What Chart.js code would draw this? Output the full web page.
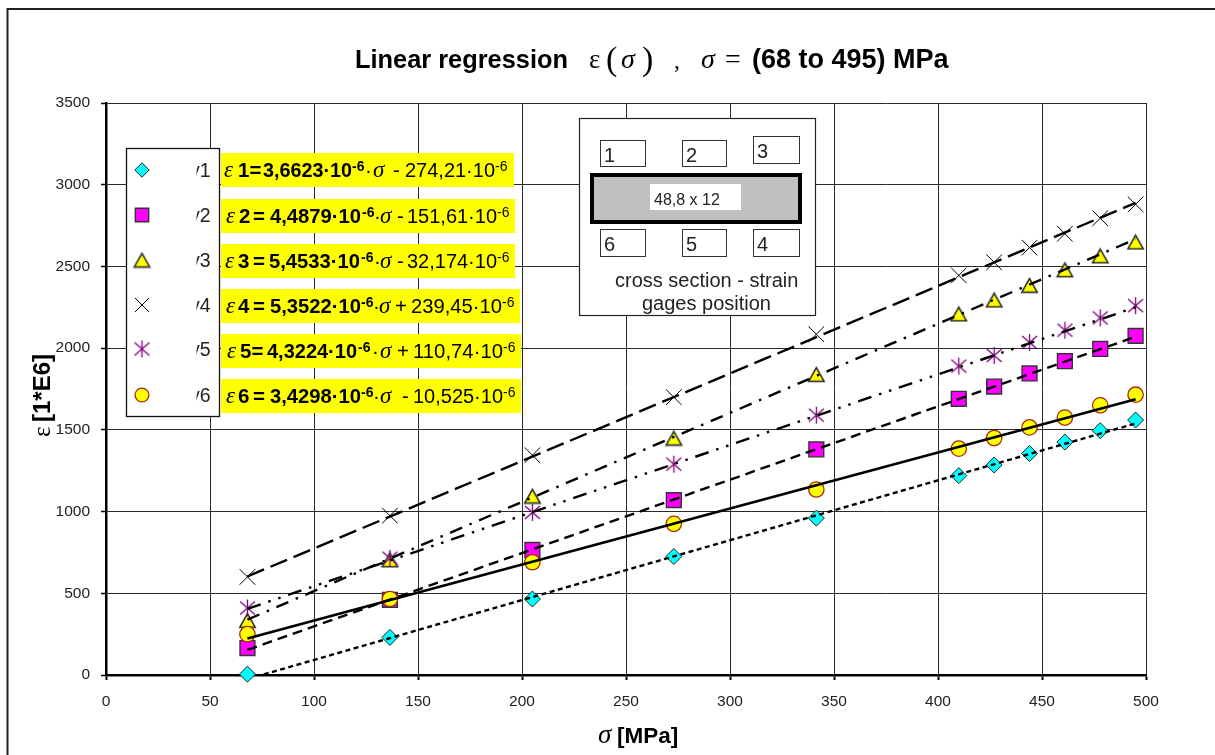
<!DOCTYPE html>
<html><head><meta charset="utf-8">
<style>html,body{margin:0;padding:0;background:#fff}canvas{display:block}</style>
<script src="https://cdn.jsdelivr.net/npm/chart.js@4/dist/chart.umd.js"></script>
</head><body><canvas id="c" width="1215" height="755"></canvas>
<script>
const stress = [68,136.5,205,273,341.5,410,427,444,461,478,495];
const gage1 = [5,230,465,725,960,1220,1285,1355,1425,1495,1560];
const gage2 = [165,460,765,1070,1380,1690,1765,1845,1920,1995,2075];
const gage3 = [335,705,1095,1450,1840,2210,2295,2385,2480,2565,2650];
const gage4 = [600,975,1345,1700,2085,2445,2525,2615,2700,2795,2880];
const gage5 = [410,715,995,1290,1590,1890,1955,2035,2110,2185,2260];
const gage6 = [250,465,690,925,1135,1385,1450,1515,1575,1650,1715];
const trendX = [68,495];
const trend1 = [-25,1539];
const trend2 = [154,2070];
const trend3 = [339,2667];
const trend4 = [603,2889];
const trend5 = [405,2250];
const trend6 = [223,1687];
const xTicks = [0,50,100,150,200,250,300,350,400,450,500];
const yTicks = [0,500,1000,1500,2000,2500,3000,3500];
const seriesNames = ['y1','y2','y3','y4','y5','y6'];

const SANS = "'Liberation Sans'", SERIF = "'Liberation Serif'";
function asterisk(){
  const s=document.createElement('canvas');s.width=19;s.height=19;
  const g=s.getContext('2d');g.strokeStyle='#800080';g.lineWidth=1.3;g.beginPath();
  g.moveTo(9.5,1);g.lineTo(9.5,18);g.moveTo(2,3);g.lineTo(17,16);g.moveTo(17,3);g.lineTo(2,16);g.stroke();
  return s;
}
function triangleMark(){
  const s=document.createElement('canvas');s.width=19;s.height=17;
  const g=s.getContext('2d');g.fillStyle='#ffff00';g.strokeStyle='#222';g.lineWidth=1.5;g.lineJoin='miter';g.beginPath();
  g.moveTo(9.5,1.8);g.lineTo(17.2,15.5);g.lineTo(1.8,15.5);g.closePath();g.fill();g.stroke();
  return s;
}
const starImg = asterisk(), triImg = triangleMark();
const markers = [
 {data:gage1,style:'rectRot',r:8,bg:'#00ffff',bd:'#222',w:1},
 {data:gage2,style:'rect',r:10.5,bg:'#ff00ff',bd:'#333',w:1.4},
 {data:gage3,style:triImg,r:8,bg:'#ffff00',bd:'#333',w:1.4},
 {data:gage4,style:'crossRot',r:11,bg:'#000',bd:'#000',w:1},
 {data:gage5,style:starImg,r:8,bg:'#800080',bd:'#800080',w:1},
 {data:gage6,style:'circle',r:7.7,bg:'#ffff00',bd:'#a52a10',w:1.3},
];
const trends = [
 {data:trend1,dash:[5,3.5],w:2.4},
 {data:trend2,dash:[10,6],w:2.4},
 {data:trend3,dash:[13,8,2.5,8],w:2.4},
 {data:trend4,dash:[18,7],w:2.4},
 {data:trend5,dash:[14,8,2.5,8,2.5,8],w:2.4},
 {data:trend6,dash:[],w:2.6},
];
const datasets = [];
markers.forEach((m,i)=>datasets.push({type:'scatter',label:'Gage '+(i+1),
  data:stress.map((x,j)=>({x,y:m.data[j]})),showLine:false,clip:false,order:100-i,
  pointStyle:m.style,pointRadius:m.r,pointBackgroundColor:m.bg,pointBorderColor:m.bd,pointBorderWidth:m.w}));
trends.forEach((t,i)=>datasets.push({type:'scatter',label:'Trend '+(i+1),
  data:trendX.map((x,j)=>({x,y:t.data[j]})),showLine:true,clip:0,order:10-i,
  pointRadius:0,borderColor:'#000',borderWidth:t.w,borderDash:t.dash,borderCapStyle:'butt',fill:false}));

const sym = 'italic 23px '+SERIF, bold='bold 20.5px '+SANS, reg='20.5px '+SANS, supB='bold 14px '+SANS, supR='14px '+SANS;
const formulaBoxes=[[221,153,293],[221,199,294],[221,244,294],[221,289,299],[221,334,300],[221,379,300]];
const formulas=[
 [['ε',224,sym],['1=',238,bold],['3,6623·10',263,bold,89],['-6',352,supB],['·',365,reg],['σ',373,sym],['-',393,reg],['274,21·10',405,reg,90],['-6',495,supR]],
 [['ε',226,sym],['2',239,bold],['=',253,bold],['4,4879·10',270,bold,91],['-6',362,supB],['·',374,reg],['σ',380,sym],['-',397,reg],['151,61·10',407,reg,90],['-6',497,supR]],
 [['ε',225,sym],['3',238,bold],['=',253,bold],['5,4533·10',269,bold,91],['-6',361,supB],['·',374,reg],['σ',380,sym],['-',397,reg],['32,174·10',407,reg,90],['-6',497,supR]],
 [['ε',226,sym],['4',238,bold],['=',253,bold],['5,3522·10',270,bold,91],['-6',361,supB],['·',373,reg],['σ',379,sym],['+',395,reg],['239,45·10',411,reg,91],['-6',502,supR]],
 [['ε',227,sym],['5=',240,bold],['4,3224·10',267,bold,90],['-6',358,supB],['·',372,reg],['σ',380,sym],['+',397,reg],['110,74·10',413,reg,90],['-6',503,supR]],
 [['ε',226,sym],['6',238,bold],['=',253,bold],['3,4298·10',270,bold,91],['-6',361,supB],['·',373,reg],['σ',380,sym],['-',402,reg],['10,525·10',413,reg,90],['-6',503,supR]],
];
const legendRows=[170,215,260,305,349,395];
function T(g,t,x,y,font,mw,color){g.font=font;g.fillStyle=color||'#000';g.textAlign='left';g.textBaseline='alphabetic';
  if(mw)g.fillText(t,x,y,mw);else g.fillText(t,x,y);}
function box(g,x0,y0,x1,y1,bd,w,fill){g.fillStyle=fill||'#fff';g.fillRect(x0,y0,x1-x0,y1-y0);g.strokeStyle=bd;g.lineWidth=w;g.strokeRect(x0+.5,y0+.5,x1-x0-1,y1-y0-1);}

const decor={id:'decor',
 beforeDraw(c){const g=c.ctx;g.save();g.strokeStyle='#222';g.lineWidth=2;g.beginPath();g.moveTo(7.5,755);g.lineTo(7.5,9);g.lineTo(1215,9);g.stroke();
   const s='italic 28px '+SERIF;
   T(g,'Linear regression',355,68,'bold 25.5px '+SANS,213);
   T(g,'ε',589,68,'27px '+SERIF);
   T(g,'(',606,70,'34px '+SERIF);
   T(g,'σ',621,68,s);
   T(g,')',642,70,'34px '+SERIF);
   T(g,',',674,68,'24px '+SERIF);
   T(g,'σ',701,68,s);
   T(g,'=',725,68,'28px '+SERIF);
   T(g,'(68 to 495) MPa',752,68,'bold 27px '+SANS,197);
   g.restore();},
 afterDraw(c){const g=c.ctx;g.save();
   formulaBoxes.forEach((b,i)=>{g.fillStyle='#ffff00';g.fillRect(b[0],b[1],b[2],34);
     formulas[i].forEach(s=>{const sup=s[0]==='-6';T(g,s[0],s[1],b[1]+(sup?18:24),s[2],s[3]);});});
   box(g,126,148,220,417,'#111',1.3);
   legendRows.forEach((y,i)=>{const m=markers[i];
     g.fillStyle=m.bg;g.strokeStyle=m.bd;g.lineWidth=m.w;
     Chart.helpers.drawPoint(g,{pointStyle:m.style,radius:m.r*0.9,rotation:0,borderWidth:m.w},142,y);
     g.save();g.beginPath();g.rect(196.5,y-14,24,28);g.clip();
     T(g,seriesNames[i],190,y+7,'19.5px '+SANS,null,'#222');g.restore();});
   box(g,579,118,816,316,'#222',1.2);
   [['1',600,140,646,167],['2',682,140,727,167],['3',753,136,800,164],['6',600,229,646,257],['5',682,229,727,257],['4',753,229,800,257]].forEach(b=>{
     box(g,b[1],b[2],b[3],b[4],'#333',1);T(g,b[0],b[1]+4,b[2]+22,'20px '+SANS,null,'#222');});
   g.fillStyle='#c0c0c0';g.fillRect(592,175,208,47);g.strokeStyle='#000';g.lineWidth=4;g.strokeRect(592,175,208,47);
   g.fillStyle='#fff';g.fillRect(650,184,91,26);T(g,'48,8 x 12',654,205,'16px '+SANS,null,'#222');
   T(g,'cross section - strain',615,287,'20px '+SANS,184,'#222');
   T(g,'gages position',642,310,'20px '+SANS,129,'#222');
   T(g,'σ',598,743,'italic 27px '+SERIF);
   T(g,'[MPa]',617,743,'bold 22.5px '+SANS,62);
   g.translate(50,437);g.rotate(-Math.PI/2);
   T(g,'ε',0,0,'25px '+SERIF);
   T(g,'[1*E6]',15,0,'bold 24px '+SANS,68);
   g.restore();}
};
new Chart(document.getElementById('c'),{
 type:'scatter',data:{datasets},plugins:[decor],
 options:{responsive:false,animation:false,events:[],
  layout:{padding:{top:103,right:69,left:0,bottom:0}},
  plugins:{legend:{display:false},title:{display:false},tooltip:{enabled:false}},
  scales:{
   x:{type:'linear',min:0,max:500,afterFit(s){s.height=80;},afterBuildTicks(s){s.ticks=xTicks.map(v=>({value:v}));},
      grid:{color:'#2a2a2a',lineWidth:1,tickColor:'#000',tickLength:5,tickWidth:2},border:{color:'#000',width:2.5},
      ticks:{color:'#222',font:{family:SANS,size:15.5},padding:12,maxRotation:0,autoSkip:false,callback:v=>String(v)}},
   y:{type:'linear',min:0,max:3500,afterFit(s){s.width=106;},afterBuildTicks(s){s.ticks=yTicks.map(v=>({value:v}));},
      grid:{color:'#2a2a2a',lineWidth:1,tickColor:'#000',tickLength:5,tickWidth:1.5},border:{color:'#000',width:2.5},
      ticks:{color:'#222',font:{family:SANS,size:15.5},padding:11,autoSkip:false,callback:v=>String(v)}}
  }}
});
</script></body></html>
